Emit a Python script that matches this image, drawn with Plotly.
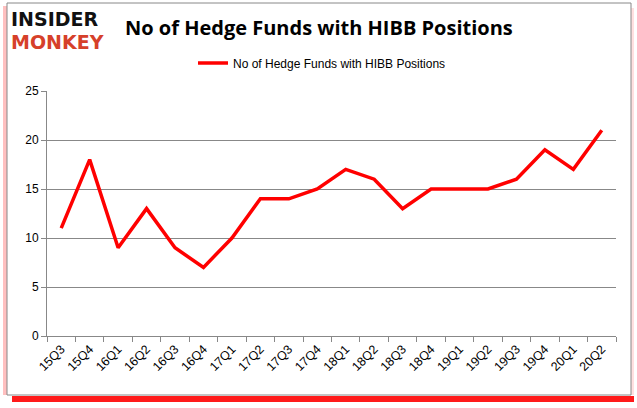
import plotly.graph_objects as go

quarters = ["15Q3","15Q4","16Q1","16Q2","16Q3","16Q4","17Q1","17Q2","17Q3","17Q4",
            "18Q1","18Q2","18Q3","18Q4","19Q1","19Q2","19Q3","19Q4","20Q1","20Q2"]
funds = [11,18,9,13,9,7,10,14,14,15,17,16,13,15,15,15,16,19,17,21]
series_name = "No of Hedge Funds with HIBB Positions"
y_ticks = [0,5,10,15,20,25]

W, H = 637, 408
L, R, T, B = 47, 21, 91, 72
PW, PH = W - L - R, H - T - B

def px(x):
    return (x - L) / PW

def py(y):
    return (H - B - y) / PH

fig = go.Figure()
fig.add_trace(go.Scatter(x=quarters, y=funds, mode="lines", name=series_name,
                         line=dict(color="#ff0000", width=3.5)))

fig.update_layout(
    width=W, height=H,
    margin=dict(l=L, r=R, t=T, b=B),
    paper_bgcolor="white", plot_bgcolor="white",
    font=dict(family="Liberation Sans, Arial", color="black", size=11),
    showlegend=True,
    legend=dict(orientation="h", x=px(193), xanchor="left", y=py(63), yanchor="middle",
                font=dict(size=12), itemwidth=30),
    title=dict(text="<b>No of Hedge Funds with HIBB Positions</b>", x=125 / W, xanchor="left",
               y=(H - 28) / H, yanchor="middle",
               font=dict(family="Open Sans, Liberation Sans", size=20, color="black")),
    xaxis=dict(type="category", range=[-0.5, len(quarters) - 0.5], tickson="boundaries",
               ticks="outside", ticklen=5,
               tickcolor="#888888", showline=True, linecolor="#888888", linewidth=1,
               showgrid=False, tickangle=-45, tickfont=dict(size=12.5)),
    yaxis=dict(range=[0, 25], tickvals=y_ticks, ticks="outside", ticklen=5,
               tickcolor="#888888", showline=True, linecolor="#888888",
               gridcolor="#888888", gridwidth=1, zeroline=False,
               tickfont=dict(size=12)),
    shapes=[
        dict(type="rect", xref="paper", yref="paper", x0=px(12), x1=px(634), y0=py(402), y1=py(396),
             fillcolor="#ff1a1a", line=dict(width=0), layer="below"),
        dict(type="rect", xref="paper", yref="paper", x0=px(3), x1=px(7), y0=py(395), y1=py(6),
             fillcolor="#ffc0c0", line=dict(width=0), layer="below"),
        dict(type="rect", xref="paper", yref="paper", x0=px(631), x1=px(634), y0=py(395), y1=py(8),
             fillcolor="#ffe0e0", line=dict(width=0), layer="below"),
        dict(type="rect", xref="paper", yref="paper", x0=px(7), x1=px(631), y0=py(395), y1=py(3),
             fillcolor="rgba(0,0,0,0)", line=dict(color="#888888", width=1), layer="below"),
    ],
    annotations=[
        dict(text="<b>INSIDER</b>", xref="paper", yref="paper", x=px(9), y=py(19),
             xanchor="left", yanchor="middle", showarrow=False,
             font=dict(family="DejaVu Sans", size=19, color="#111111")),
        dict(text="<b>MONKEY</b>", xref="paper", yref="paper", x=px(9), y=py(42),
             xanchor="left", yanchor="middle", showarrow=False,
             font=dict(family="DejaVu Sans", size=19, color="#d6402a")),
    ],
)

fig.write_html("out.html", config={"displayModeBar": False},
               post_script="document.body.style.margin='0';document.body.style.padding='0';")
